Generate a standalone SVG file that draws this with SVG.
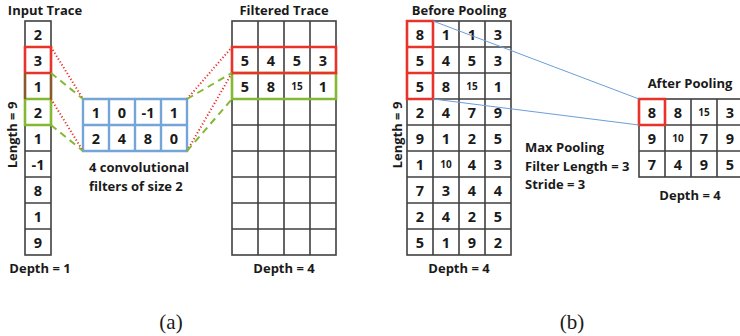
<svg xmlns="http://www.w3.org/2000/svg" width="740" height="336" viewBox="0 0 740 336">
<style>
text{font-family:"Open Sans","Liberation Sans",sans-serif;font-weight:bold;fill:#1a1a1a;text-anchor:middle;dominant-baseline:central}
.n{font-size:14.5px}
.s{font-size:10px}
.lbl{font-size:13px}
.lt{text-anchor:start}
.cap{font-family:"Liberation Serif",serif;font-weight:normal;font-size:21px}
.g{fill:#fff;stroke:#404040;stroke-width:1.6}
.gl{stroke:#404040;stroke-width:1.6;fill:none}
.bl{fill:none;stroke:#74a5d8;stroke-width:2.4}
.red{fill:none;stroke:#e8332a;stroke-width:2.6}
.grn{fill:none;stroke:#82b832;stroke-width:2.6}
.brn{fill:none;stroke:#8b5a2b;stroke-width:2.6}
.rd{stroke:#e8332a;stroke-width:2;stroke-dasharray:1.2 2.2;fill:none}
.gd{stroke:#82b832;stroke-width:2;stroke-dasharray:7 5;fill:none}
.bline{stroke:#6a9fd6;stroke-width:1;fill:none}
</style>

<!-- (a) Input trace -->
<g id="input-trace">
<text class="lbl" x="45" y="10">Input Trace</text>
<rect class="g" x="25" y="21" width="26" height="234"/>
<path class="gl" d="M25 47H51M25 73H51M25 99H51M25 125H51M25 151H51M25 177H51M25 203H51M25 229H51"/>
<text class="n" x="38" y="34">2</text>
<text class="n" x="38" y="60">3</text>
<text class="n" x="38" y="86">1</text>
<text class="n" x="38" y="112">2</text>
<text class="n" x="38" y="138">1</text>
<text class="n" x="38" y="164">-1</text>
<text class="n" x="38" y="190">8</text>
<text class="n" x="38" y="216">1</text>
<text class="n" x="38" y="242">9</text>
<path class="grn" d="M25 99V125H51V99M25 99H51"/>
<path class="red" d="M25 73V47H51V73M25 73H51"/>
<path class="brn" d="M25 73V99M51 73V99"/>
<text class="lbl" x="12" y="135" transform="rotate(-90 12 135)">Length = 9</text>
<text class="lbl" x="40" y="268">Depth = 1</text>
</g>

<!-- filters -->
<g id="filters">
<rect x="83" y="99" width="104" height="52" fill="#fff"/>
<path class="bl" d="M83 99H187V151H83ZM83 125H187M109 99V151M135 99V151M161 99V151"/>
<text class="n" x="96" y="112">1</text>
<text class="n" x="122" y="112">0</text>
<text class="n" x="148" y="112">-1</text>
<text class="n" x="174" y="112">1</text>
<text class="n" x="96" y="138">2</text>
<text class="n" x="122" y="138">4</text>
<text class="n" x="148" y="138">8</text>
<text class="n" x="174" y="138">0</text>
<text class="lbl lt" x="89" y="167">4 convolutional</text>
<text class="lbl lt" x="89" y="186">filters of size 2</text>
</g>

<!-- filtered trace -->
<g id="filtered-trace">
<text class="lbl" x="284" y="10">Filtered Trace</text>
<rect class="g" x="232" y="21" width="104" height="234"/>
<path class="gl" d="M232 47H336M232 73H336M232 99H336M232 125H336M232 151H336M232 177H336M232 203H336M232 229H336M258 21V255M284 21V255M310 21V255"/>
<text class="n" x="245" y="60">5</text>
<text class="n" x="271" y="60">4</text>
<text class="n" x="297" y="60">5</text>
<text class="n" x="323" y="60">3</text>
<text class="n" x="245" y="86">5</text>
<text class="n" x="271" y="86">8</text>
<text class="s" x="297" y="86">15</text>
<text class="n" x="323" y="86">1</text>
<path class="grn" d="M232 73H336V99H232Z"/>
<path class="red" d="M232 47H336V73H232Z"/>
<text class="lbl" x="284" y="268">Depth = 4</text>
</g>

<!-- (b) before pooling -->
<g id="before-pooling">
<text class="lbl" x="459" y="10">Before Pooling</text>
<rect class="g" x="407" y="21" width="104" height="234"/>
<path class="gl" d="M407 47H511M407 73H511M407 99H511M407 125H511M407 151H511M407 177H511M407 203H511M407 229H511M433 21V255M459 21V255M485 21V255"/>
<text class="n" x="420" y="34">8</text><text class="n" x="446" y="34">1</text><text class="n" x="472" y="34">1</text><text class="n" x="498" y="34">3</text>
<text class="n" x="420" y="60">5</text><text class="n" x="446" y="60">4</text><text class="n" x="472" y="60">5</text><text class="n" x="498" y="60">3</text>
<text class="n" x="420" y="86">5</text><text class="n" x="446" y="86">8</text><text class="s" x="472" y="86">15</text><text class="n" x="498" y="86">1</text>
<text class="n" x="420" y="112">2</text><text class="n" x="446" y="112">4</text><text class="n" x="472" y="112">7</text><text class="n" x="498" y="112">9</text>
<text class="n" x="420" y="138">9</text><text class="n" x="446" y="138">1</text><text class="n" x="472" y="138">2</text><text class="n" x="498" y="138">5</text>
<text class="n" x="420" y="164">1</text><text class="s" x="446" y="164">10</text><text class="n" x="472" y="164">4</text><text class="n" x="498" y="164">3</text>
<text class="n" x="420" y="190">7</text><text class="n" x="446" y="190">3</text><text class="n" x="472" y="190">4</text><text class="n" x="498" y="190">4</text>
<text class="n" x="420" y="216">2</text><text class="n" x="446" y="216">4</text><text class="n" x="472" y="216">2</text><text class="n" x="498" y="216">5</text>
<text class="n" x="420" y="242">5</text><text class="n" x="446" y="242">1</text><text class="n" x="472" y="242">9</text><text class="n" x="498" y="242">2</text>
<path class="red" d="M407 21H433V47H407ZM407 47H433V73H407ZM407 73H433V99H407Z"/>
<text class="lbl" x="397" y="135" transform="rotate(-90 397 135)">Length = 9</text>
<text class="lbl" x="459" y="268">Depth = 4</text>
</g>

<g id="pooling-params">
<text class="lbl lt" x="525" y="147">Max Pooling</text>
<text class="lbl lt" x="525" y="166">Filter Length = 3</text>
<text class="lbl lt" x="525" y="184">Stride = 3</text>
</g>

<!-- after pooling -->
<g id="after-pooling">
<text class="lbl" x="690" y="83">After Pooling</text>
<rect class="g" x="639" y="99" width="104" height="78"/>
<path class="gl" d="M639 125H743M639 151H743M665 99V177M691 99V177M717 99V177"/>
<text class="n" x="652" y="112">8</text><text class="n" x="678" y="112">8</text><text class="s" x="704" y="112">15</text><text class="n" x="730" y="112">3</text>
<text class="n" x="652" y="138">9</text><text class="s" x="678" y="138">10</text><text class="n" x="704" y="138">7</text><text class="n" x="730" y="138">9</text>
<text class="n" x="652" y="164">7</text><text class="n" x="678" y="164">4</text><text class="n" x="704" y="164">9</text><text class="n" x="730" y="164">5</text>
<path class="red" d="M639 99H665V125H639Z"/>
<text class="lbl" x="690" y="195">Depth = 4</text>
</g>

<!-- connectors -->
<g id="connectors">
<path class="rd" d="M51 47L83 99M51 99L83 151M187 99L232 47M187 151L232 73"/>
<path class="gd" d="M51 73L83 99M51 125L83 151M187 99L232 73M187 151L232 99"/>
<path class="bline" d="M433 21L639 99M433 99L639 125"/>
</g>

<g id="captions">
<text class="cap" x="171" y="322">(a)</text>
<text class="cap" x="572" y="322">(b)</text>
</g>
</svg>
